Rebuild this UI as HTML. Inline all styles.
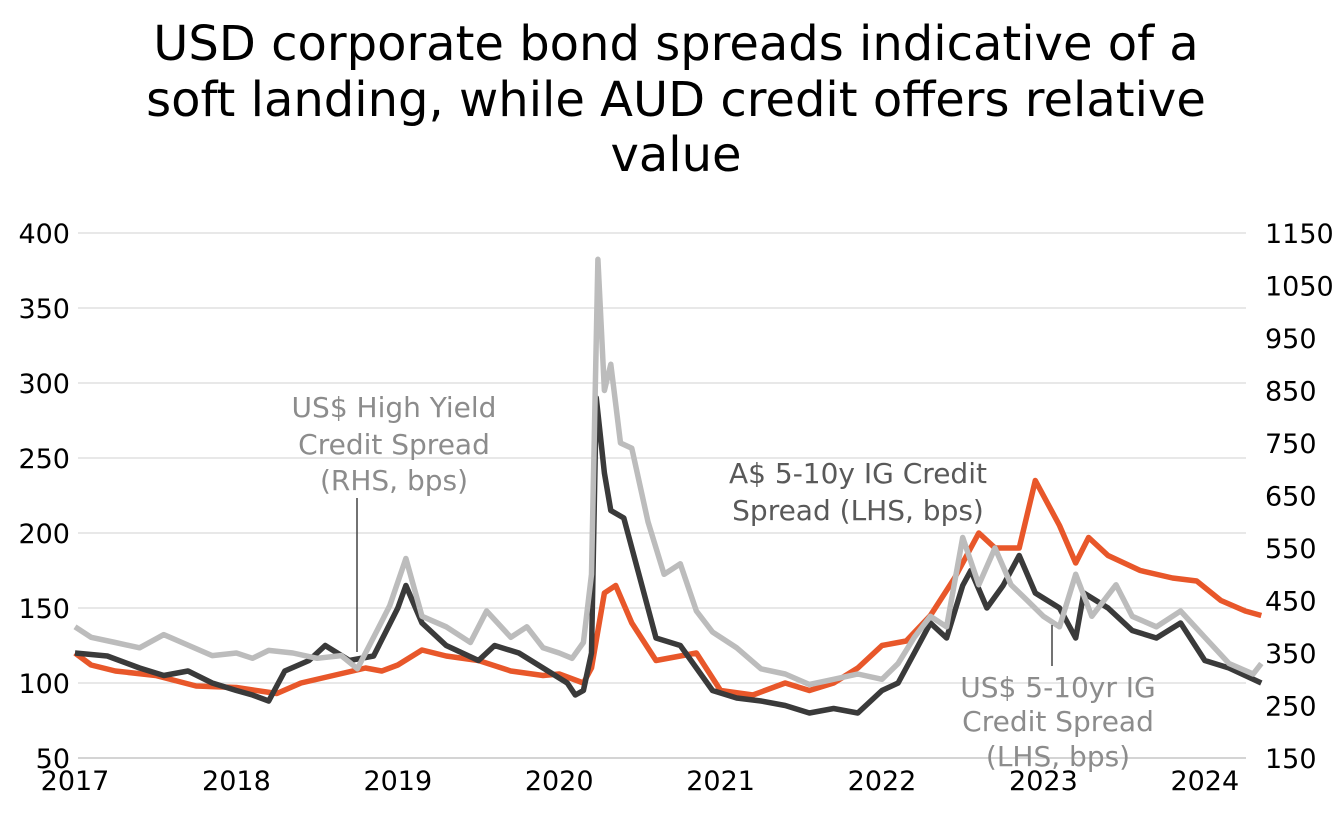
<!DOCTYPE html>
<html><head><meta charset="utf-8"><style>
body{margin:0;background:#fff;font-family:"DejaVu Sans","Liberation Sans",sans-serif}
</style></head><body>
<svg width="1338" height="820" xmlns="http://www.w3.org/2000/svg" font-family="DejaVu Sans, Liberation Sans, sans-serif">
<g font-size="48" text-anchor="middle" fill="#000">
<text x="676" y="60">USD corporate bond spreads indicative of a</text>
<text x="676" y="116">soft landing, while AUD credit offers relative</text>
<text x="676" y="171">value</text>
</g>
<g id="grid"></g>
<g id="yl" font-size="27" text-anchor="end"></g>
<g id="yr" font-size="27" text-anchor="start"></g>
<g id="xa" font-size="27" text-anchor="middle"></g>
<g id="series"></g>
<g font-size="28" fill="#8c8c8c" text-anchor="middle">
<text x="394" y="417">US$ High Yield</text><text x="394" y="454">Credit Spread</text><text x="394" y="490">(RHS, bps)</text>
<line x1="357" y1="498" x2="357" y2="652" stroke="#444" stroke-width="1.5"/>
</g>
<g font-size="28" fill="#595959" text-anchor="middle">
<text x="858" y="483">A$ 5-10y IG Credit</text><text x="858" y="520">Spread (LHS, bps)</text>
</g>
<g font-size="28" fill="#8c8c8c" text-anchor="middle">
<text x="1058" y="697">US$ 5-10yr IG</text><text x="1058" y="731">Credit Spread</text><text x="1058" y="766">(LHS, bps)</text>
<line x1="1052" y1="625" x2="1052" y2="666" stroke="#444" stroke-width="1.5"/>
</g>
</svg>
<script>
const leftTicks=[50,100,150,200,250,300,350,400];
const rightTicks=[150,250,350,450,550,650,750,850,950,1050,1150];
const yearTicks=[2017,2018,2019,2020,2021,2022,2023,2024];
const audDates=[2017.0,2017.1,2017.25,2017.5,2017.75,2018.0,2018.25,2018.4,2018.6,2018.8,2018.9,2019.0,2019.15,2019.3,2019.5,2019.7,2019.9,2020.0,2020.15,2020.2,2020.28,2020.35,2020.45,2020.6,2020.75,2020.85,2021.0,2021.2,2021.4,2021.55,2021.7,2021.85,2022.0,2022.15,2022.3,2022.45,2022.6,2022.7,2022.85,2022.95,2023.1,2023.2,2023.28,2023.4,2023.6,2023.8,2023.95,2024.1,2024.25,2024.35];
const audValues=[120,112,108,105,98,97,93,100,105,110,108,112,122,118,115,108,105,106,100,110,160,165,140,115,118,120,95,92,100,95,100,110,125,128,145,170,200,190,190,235,205,180,197,185,175,170,168,155,148,145];
const usigDates=[2017.0,2017.2,2017.4,2017.55,2017.7,2017.85,2018.0,2018.1,2018.2,2018.3,2018.45,2018.55,2018.7,2018.85,2019.0,2019.05,2019.15,2019.3,2019.5,2019.6,2019.75,2019.9,2020.05,2020.1,2020.15,2020.2,2020.23,2020.28,2020.32,2020.4,2020.5,2020.6,2020.75,2020.85,2020.95,2021.1,2021.25,2021.4,2021.55,2021.7,2021.85,2022.0,2022.1,2022.2,2022.3,2022.4,2022.5,2022.55,2022.65,2022.75,2022.85,2022.95,2023.1,2023.2,2023.25,2023.4,2023.55,2023.7,2023.85,2024.0,2024.15,2024.35];
const usigValues=[120,118,110,105,108,100,95,92,88,108,115,125,115,118,150,165,140,125,115,125,120,110,100,92,95,120,290,240,215,210,170,130,125,110,95,90,88,85,80,83,80,95,100,120,140,130,165,175,150,165,185,160,150,130,160,150,135,130,140,115,110,100];
const hyDates=[2017.0,2017.1,2017.25,2017.4,2017.55,2017.7,2017.85,2018.0,2018.1,2018.2,2018.35,2018.5,2018.65,2018.75,2018.85,2018.95,2019.05,2019.15,2019.3,2019.45,2019.55,2019.7,2019.8,2019.9,2020.0,2020.08,2020.15,2020.2,2020.24,2020.28,2020.32,2020.38,2020.45,2020.55,2020.65,2020.75,2020.85,2020.95,2021.1,2021.25,2021.4,2021.55,2021.7,2021.85,2022.0,2022.1,2022.2,2022.3,2022.4,2022.5,2022.6,2022.7,2022.8,2022.9,2023.0,2023.1,2023.2,2023.3,2023.45,2023.55,2023.7,2023.85,2024.0,2024.15,2024.3,2024.35];
const hyValues=[400,380,370,360,385,365,345,350,340,355,350,340,345,320,380,440,530,420,400,370,430,380,400,360,350,340,370,500,1100,850,900,750,740,600,500,520,430,390,360,320,310,290,300,310,300,330,380,420,400,570,480,550,480,450,420,400,500,420,480,420,400,430,380,330,310,330];
const NS="http://www.w3.org/2000/svg";
const X0=78,X1=1246;
const xs=d=>75+(d-2017)*161.4;
const yL=v=>233+(400-v)*1.5;
const yR=v=>233+(1150-v)*0.525;
function mk(t,a,p){const e=document.createElementNS(NS,t);for(const k in a)e.setAttribute(k,a[k]);p.appendChild(e);return e;}
const grid=document.getElementById('grid'),yl=document.getElementById('yl'),yr=document.getElementById('yr'),xa=document.getElementById('xa'),ser=document.getElementById('series');
leftTicks.forEach(v=>{
 const l=mk('line',{x1:X0,x2:X1,y1:yL(v),y2:yL(v),stroke:v==50?'#bbb':'#d9d9d9','stroke-width':1.3},grid);
 
 
 const t=mk('text',{x:70,y:yL(v)+10},yl);t.textContent=v;
 
 
});
rightTicks.forEach(v=>{
 const t=mk('text',{x:1265,y:yR(v)+10},yr);t.textContent=v;
 
 
});
yearTicks.forEach(v=>{
 const t=mk('text',{x:xs(v),y:790},xa);t.textContent=v;
 
 
});
function line(d,v,f,c,name){
 const pts=d.map((x,i)=>xs(x).toFixed(1)+','+f(v[i]).toFixed(1)).join(' ');
 const p=mk('polyline',{points:pts,fill:'none',stroke:c,'stroke-width':5.5,'stroke-linejoin':'round'},ser);
 
 
}
line(audDates,audValues,yL,'#e8572a','aud-ig-spread-line');
line(usigDates,usigValues,yL,'#3a3a3a','us-ig-spread-line');
line(hyDates,hyValues,yR,'#bcbcbc','us-hy-spread-line');
</script>
</body></html>
